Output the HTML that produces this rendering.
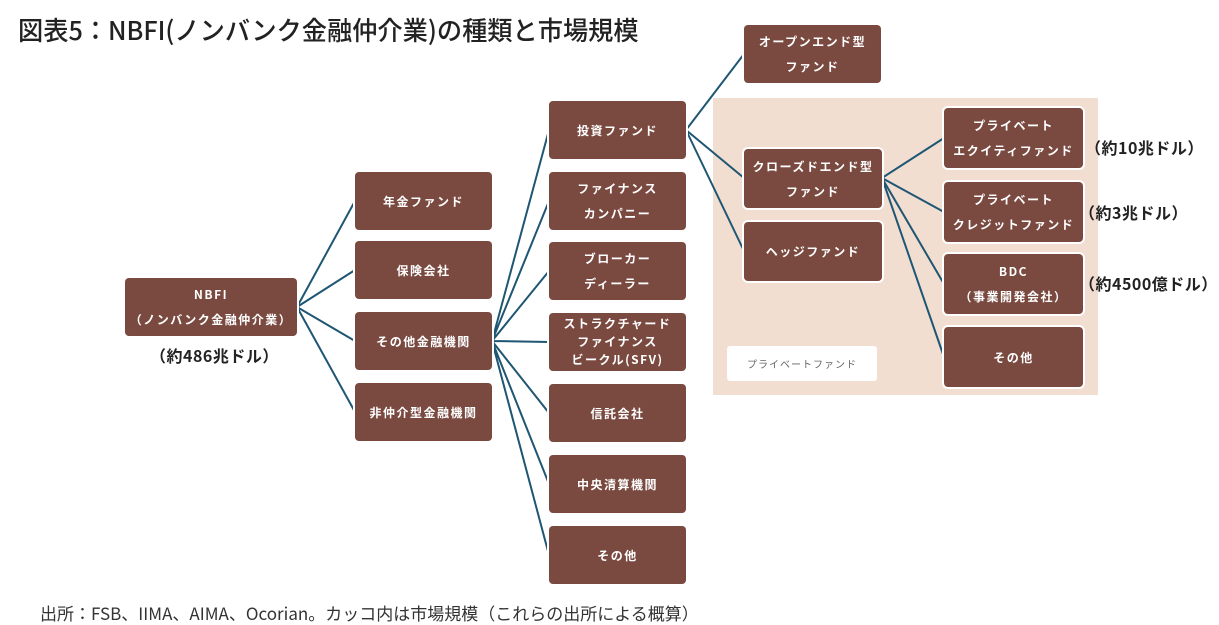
<!DOCTYPE html>
<html><head><meta charset="utf-8"><style>
body{margin:0;width:1219px;height:625px;background:#fff;position:relative;overflow:hidden;font-family:"Liberation Sans","Noto Sans CJK JP",sans-serif;}
.t{position:absolute;left:18px;top:11px;font-size:26px;color:#222;font-family:"Noto Sans CJK JP",sans-serif;font-weight:500;letter-spacing:0;transform:scaleX(0.97);transform-origin:left top;white-space:nowrap}
.b{position:absolute;background:#7a4a40;color:#fff;font-weight:bold;font-size:12px;letter-spacing:1.5px;border-radius:4px;box-shadow:0 0 0 2px #fff;display:flex;align-items:center;justify-content:center;text-align:center;line-height:25px;font-family:"Noto Sans CJK JP",sans-serif}
.b.s{line-height:18px}
.l{position:absolute;font-weight:bold;font-size:16px;color:#222;font-family:"Noto Sans CJK JP",sans-serif;white-space:nowrap;letter-spacing:0.5px}
.bg{position:absolute;left:713px;top:98px;width:385px;height:297px;background:#f2ddd1}
.pf{position:absolute;left:727px;top:346px;width:150px;height:35px;background:#fff;border-radius:3px;font-size:10px;color:#666;display:flex;align-items:center;justify-content:center;font-family:"Noto Sans CJK JP",sans-serif;letter-spacing:1px}
.f{position:absolute;left:40px;top:600px;font-size:17px;color:#333;font-family:"Noto Sans CJK JP",sans-serif;white-space:nowrap;transform:scaleX(1.0);transform-origin:left top}
</style></head><body>
<div class="t">図表5：NBFI(ノンバンク金融仲介業)の種類と市場規模</div>
<div class="bg"></div>
<div class="pf">プライベートファンド</div>
<svg style="position:absolute;left:0;top:0" width="1219" height="625">
<g stroke="#1e5673" stroke-width="2" fill="none">
<path d="M297 307L355 201M297 307L355 270M297 307L355 341M297 307L355 412"/>
<path d="M492 341L549 130M492 341L549 201M492 341L549 271M492 341L549 342M492 341L549 413M492 341L549 484M492 341L549 555"/>
<path d="M686 130L744 54M686 130L744 178M686 130L744 251"/>
<path d="M882 178L944 138M882 178L944 212M882 178L944 284M882 178L944 357"/>
</g></svg>
<div class="b" style="left:125px;top:278px;width:172px;height:58px">NBFI<br>（ノンバンク金融仲介業）</div>
<div class="l" style="left:150px;top:343px">（約486兆ドル）</div>
<div class="b" style="left:355px;top:172px;width:137px;height:58px">年金ファンド</div>
<div class="b" style="left:355px;top:241px;width:137px;height:58px">保険会社</div>
<div class="b" style="left:355px;top:312px;width:137px;height:58px">その他金融機関</div>
<div class="b" style="left:355px;top:383px;width:137px;height:58px">非仲介型金融機関</div>
<div class="b" style="left:549px;top:101px;width:137px;height:58px">投資ファンド</div>
<div class="b" style="left:549px;top:172px;width:137px;height:58px">ファイナンス<br>カンパニー</div>
<div class="b" style="left:549px;top:242px;width:137px;height:58px">ブローカー<br>ディーラー</div>
<div class="b s" style="left:549px;top:313px;width:137px;height:58px">ストラクチャード<br>ファイナンス<br>ビークル(SFV)</div>
<div class="b" style="left:549px;top:384px;width:137px;height:58px">信託会社</div>
<div class="b" style="left:549px;top:455px;width:137px;height:58px">中央清算機関</div>
<div class="b" style="left:549px;top:526px;width:137px;height:58px">その他</div>
<div class="b" style="left:744px;top:25px;width:137px;height:58px">オープンエンド型<br>ファンド</div>
<div class="b" style="left:744px;top:149px;width:138px;height:59px">クローズドエンド型<br>ファンド</div>
<div class="b" style="left:744px;top:222px;width:138px;height:59px">ヘッジファンド</div>
<div class="b" style="left:944px;top:108px;width:139px;height:60px">プライベート<br>エクイティファンド</div>
<div class="b" style="left:944px;top:182px;width:139px;height:60px">プライベート<br>クレジットファンド</div>
<div class="b" style="left:944px;top:254px;width:139px;height:60px">BDC<br>（事業開発会社）</div>
<div class="b" style="left:944px;top:327px;width:139px;height:60px">その他</div>
<div class="l" style="left:1085px;top:135px">（約10兆ドル）</div>
<div class="l" style="left:1079px;top:200px">（約3兆ドル）</div>
<div class="l" style="left:1079px;top:271px">（約4500億ドル）</div>
<div class="f">出所：FSB、IIMA、AIMA、Ocorian。カッコ内は市場規模（これらの出所による概算）</div>
</body></html>
